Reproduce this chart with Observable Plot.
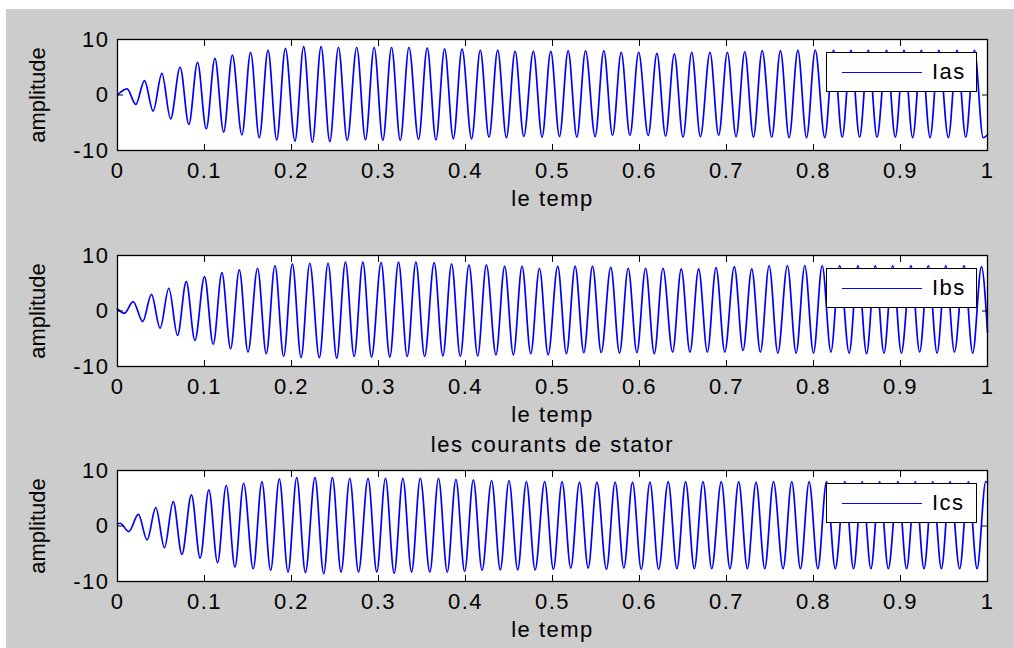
<!DOCTYPE html>
<html>
<head>
<meta charset="utf-8">
<script src="https://cdn.jsdelivr.net/npm/d3@7"></script>
<script src="https://cdn.jsdelivr.net/npm/@observablehq/plot@0.6"></script>
<style>
  body { margin: 0; background: #ffffff; }
  #page { position: relative; width: 1014px; height: 648px; overflow: hidden; background: #ffffff;
          font-family: "Liberation Sans", Arial, sans-serif; }
  #bg { position: absolute; left: 6px; top: 9px; right: 0; bottom: 0; background: #cccccc; }
  .panel { position: absolute; left: 0; }
  .panel svg text { letter-spacing: 1.5px; }
  .panel svg g[aria-label="y-axis label"] text { letter-spacing: 0; }
  .legend { position: absolute; left: 826px; width: 151px; height: 40px; box-sizing: border-box;
            border: 1.5px solid #000; background: #fff; }
  .legend .sample { position: absolute; left: 15px; width: 80px; top: 19px; border-top: 1.5px solid #0000ff; }
  .legend .lab { position: absolute; left: 105px; top: 6px; font-size: 22px; letter-spacing: 1.5px; color: #000;
                 font-family: "Liberation Sans", Arial, sans-serif; }
</style>
</head>
<body>
<div id="page"><div id="bg"></div></div>
<script>
// ---- data (extrema of each stator current) ----
const xTicks = [0, 0.1, 0.2, 0.3, 0.4, 0.5, 0.6, 0.7, 0.8, 0.9, 1];
const yTicks = [-10, 0, 10];
const seriesNames = ["Ias", "Ibs", "Ics"];

const iasT = [0, 0.011, 0.021, 0.031, 0.041, 0.051, 0.061, 0.072, 0.082, 0.092,
  0.102, 0.112, 0.122, 0.132, 0.143, 0.153, 0.163, 0.173, 0.183, 0.193,
  0.204, 0.214, 0.224, 0.234, 0.244, 0.254, 0.264, 0.275, 0.285, 0.295,
  0.305, 0.315, 0.325, 0.335, 0.346, 0.356, 0.366, 0.376, 0.386, 0.396,
  0.407, 0.417, 0.427, 0.437, 0.447, 0.457, 0.467, 0.478, 0.488, 0.498,
  0.508, 0.518, 0.528, 0.538, 0.549, 0.559, 0.569, 0.579, 0.589, 0.599,
  0.610, 0.620, 0.630, 0.640, 0.650, 0.660, 0.670, 0.681, 0.691, 0.701,
  0.711, 0.721, 0.731, 0.741, 0.752, 0.762, 0.772, 0.782, 0.792, 0.802,
  0.813, 0.823, 0.833, 0.843, 0.853, 0.863, 0.873, 0.884, 0.894, 0.904,
  0.914, 0.924, 0.934, 0.944, 0.955, 0.965, 0.975, 0.985, 0.995, 1];
const iasV = [0, 1.1, -1.7, 2.6, -2.9, 3.9, -4.3, 5.0, -5.3, 5.9,
  -6.1, 6.6, -6.7, 7.2, -7.2, 7.7, -7.7, 8.1, -8.1, 8.4,
  -8.3, 8.7, -8.5, 8.7, -8.4, 8.6, -8.2, 8.6, -8.1, 8.6,
  -8.2, 8.6, -8.2, 8.6, -8.0, 8.5, -8.1, 8.3, -7.9, 8.3,
  -7.9, 8.1, -7.6, 8.1, -7.7, 7.9, -7.5, 7.9, -7.6, 7.9,
  -7.5, 8.0, -7.6, 8.0, -7.5, 8.0, -7.3, 7.7, -7.3, 7.7,
  -7.3, 7.5, -7.4, 7.4, -7.6, 7.7, -7.5, 7.7, -7.3, 7.7,
  -7.5, 7.8, -7.6, 8.0, -7.6, 8.0, -7.7, 8.1, -7.7, 8.1,
  -7.7, 8.1, -7.6, 8.1, -7.6, 8.1, -7.6, 8.1, -7.6, 8.1,
  -7.7, 8.1, -7.7, 8.1, -7.7, 8.1, -7.6, 8.1, -7.7, -7.2];

const ibsT = [0, 0.008, 0.018, 0.029, 0.039, 0.049, 0.059, 0.069, 0.079, 0.089,
  0.100, 0.110, 0.120, 0.130, 0.140, 0.150, 0.161, 0.171, 0.181, 0.191,
  0.201, 0.211, 0.221, 0.232, 0.242, 0.252, 0.262, 0.272, 0.282, 0.292,
  0.303, 0.313, 0.323, 0.333, 0.343, 0.353, 0.364, 0.374, 0.384, 0.394,
  0.404, 0.414, 0.424, 0.435, 0.445, 0.455, 0.465, 0.475, 0.485, 0.495,
  0.506, 0.516, 0.526, 0.536, 0.546, 0.556, 0.567, 0.577, 0.587, 0.597,
  0.607, 0.617, 0.627, 0.638, 0.648, 0.658, 0.668, 0.678, 0.688, 0.698,
  0.709, 0.719, 0.729, 0.739, 0.749, 0.759, 0.770, 0.780, 0.790, 0.800,
  0.810, 0.820, 0.830, 0.841, 0.851, 0.861, 0.871, 0.881, 0.891, 0.901,
  0.912, 0.922, 0.932, 0.942, 0.952, 0.962, 0.973, 0.983, 0.993, 1];
const ibsV = [0.4, -0.4, 1.7, -1.9, 3.0, -3.1, 4.1, -4.4, 5.3, -5.3,
  6.2, -6.0, 6.9, -6.8, 7.4, -7.4, 7.7, -7.7, 8.2, -8.2,
  8.5, -8.4, 8.6, -8.4, 8.6, -8.5, 8.8, -8.2, 8.8, -8.3,
  8.7, -8.3, 8.8, -8.2, 8.8, -8.2, 8.7, -8.1, 8.5, -8.2,
  8.3, -8.1, 8.3, -7.9, 8.1, -7.9, 8.1, -7.7, 7.7, -7.9,
  8.1, -7.7, 8.1, -7.5, 8.1, -7.5, 7.9, -7.6, 7.7, -7.5,
  7.7, -7.7, 7.7, -7.4, 7.6, -7.4, 7.6, -7.4, 7.8, -7.4,
  8.0, -7.1, 7.6, -7.4, 8.2, -7.6, 8.2, -7.6, 8.2, -7.6,
  8.2, -7.4, 8.2, -7.6, 8.2, -7.7, 8.2, -7.6, 8.2, -7.6,
  8.2, -7.4, 8.2, -7.6, 8.2, -7.4, 8.2, -7.6, 8.0, -3.8];

const icsT = [0, 0.003, 0.013, 0.024, 0.034, 0.044, 0.054, 0.064, 0.074, 0.085,
  0.095, 0.105, 0.115, 0.125, 0.135, 0.145, 0.156, 0.166, 0.176, 0.186,
  0.196, 0.206, 0.216, 0.227, 0.237, 0.247, 0.257, 0.267, 0.277, 0.288,
  0.298, 0.308, 0.318, 0.328, 0.338, 0.348, 0.359, 0.369, 0.379, 0.389,
  0.399, 0.409, 0.419, 0.430, 0.440, 0.450, 0.460, 0.470, 0.480, 0.491,
  0.501, 0.511, 0.521, 0.531, 0.541, 0.551, 0.562, 0.572, 0.582, 0.592,
  0.602, 0.612, 0.622, 0.633, 0.643, 0.653, 0.663, 0.673, 0.683, 0.694,
  0.704, 0.714, 0.724, 0.734, 0.744, 0.754, 0.765, 0.775, 0.785, 0.795,
  0.805, 0.815, 0.825, 0.836, 0.846, 0.856, 0.866, 0.876, 0.886, 0.897,
  0.907, 0.917, 0.927, 0.937, 0.947, 0.957, 0.968, 0.978, 0.988, 0.998,
  1];
const icsV = [0.4, 0.5, -1.0, 2.1, -2.5, 3.3, -3.9, 4.4, -5.1, 5.6,
  -5.8, 6.5, -6.6, 7.3, -7.4, 7.7, -7.7, 8.0, -8.0, 8.5,
  -8.3, 8.7, -8.4, 8.7, -8.6, 8.7, -8.3, 8.6, -8.3, 8.6,
  -8.3, 8.6, -8.5, 8.6, -8.3, 8.6, -8.3, 8.6, -8.3, 8.4,
  -8.2, 8.3, -8.0, 8.2, -7.9, 8.2, -7.9, 8.0, -7.9, 8.0,
  -7.8, 8.0, -7.6, 7.9, -7.6, 7.9, -7.8, 7.9, -7.6, 7.9,
  -7.8, 7.9, -7.8, 8.0, -7.7, 8.0, -7.7, 8.0, -7.7, 8.0,
  -7.7, 8.0, -7.7, 7.9, -7.7, 8.0, -7.7, 8.0, -7.7, 8.0,
  -7.7, 8.0, -7.7, 8.0, -7.7, 8.0, -7.7, 8.0, -7.7, 8.0,
  -7.7, 8.0, -7.7, 8.0, -7.7, 8.0, -7.7, 8.0, -7.7, 8.0,
  7.9];

// ---- drawing ----
const page = document.getElementById("page");
const FONT = '"Liberation Sans", Arial, sans-serif';
const panels = [
  {name: seriesNames[0], t: iasT, v: iasV, top: 0, title: null},
  {name: seriesNames[1], t: ibsT, v: ibsV, top: 216, title: null},
  {name: seriesNames[2], t: icsT, v: icsV, top: 431, title: "les courants de stator"}
];
const fmt = d => String(d);

for (const p of panels) {
  const n = Math.min(p.t.length, p.v.length);
  const data = d3.range(n).map(i => ({t: p.t[i], v: p.v[i]}));
  const chart = Plot.plot({
    width: 1014, height: 215,
    marginLeft: 117, marginRight: 27, marginTop: 39, marginBottom: 65,
    style: {background: "transparent", fontSize: "22px", fontFamily: FONT, color: "#000", overflow: "visible"},
    x: {domain: [0, 1]},
    y: {domain: [-10, 10]},
    marks: [
      Plot.frame({fill: "#ffffff"}),
      Plot.line(data, {x: "t", y: "v", stroke: "#0000ff", strokeWidth: 1.7, curve: "monotone-x"}),
      Plot.axisX({anchor: "bottom", ticks: xTicks, tickSize: -6, tickFormat: () => "", label: null}),
      Plot.axisX({anchor: "top", ticks: xTicks, tickSize: -6, tickFormat: () => "",
        label: p.title, labelAnchor: "center", labelOffset: 34, labelArrow: "none"}),
      Plot.axisX({anchor: "bottom", ticks: xTicks, tickSize: 0, tickPadding: 12, tickFormat: fmt,
        label: "le temp", labelAnchor: "center", labelOffset: 55, labelArrow: "none"}),
      Plot.axisY({anchor: "left", ticks: yTicks, tickSize: -6, tickPadding: 14, tickFormat: fmt,
        label: "amplitude", labelAnchor: "center", labelOffset: 88, labelArrow: "none"}),
      Plot.axisY({anchor: "right", ticks: yTicks, tickSize: -6, tickFormat: () => "", label: null}),
      Plot.frame({stroke: "#000", strokeWidth: 1.3})
    ]
  });
  const wrap = document.createElement("div");
  wrap.className = "panel";
  wrap.style.top = p.top + "px";
  wrap.appendChild(chart);
  page.appendChild(wrap);

  const leg = document.createElement("div");
  leg.className = "legend";
  leg.style.top = (p.top + 39 + 13) + "px";
  const s = document.createElement("div"); s.className = "sample";
  const l = document.createElement("div"); l.className = "lab"; l.textContent = p.name;
  leg.appendChild(s); leg.appendChild(l);
  page.appendChild(leg);
}
</script>
</body>
</html>
